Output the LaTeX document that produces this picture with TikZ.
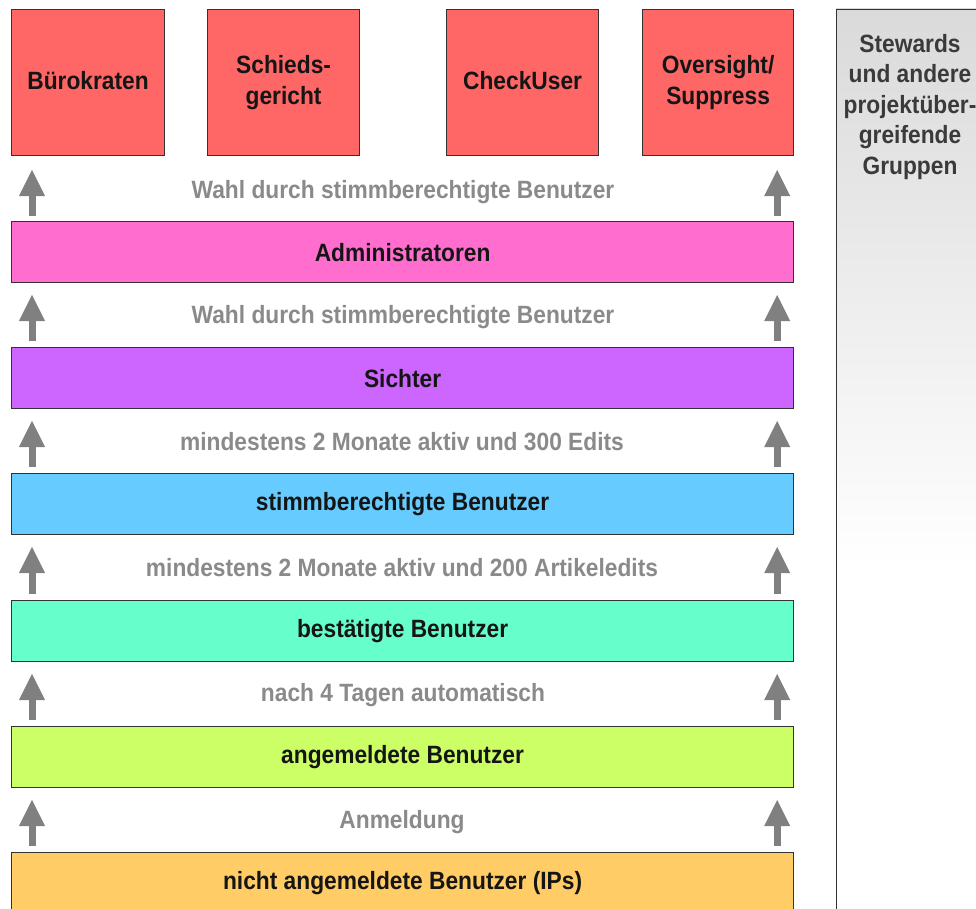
\documentclass[tikz,border=0pt]{standalone}
\usepackage{fontspec}
\setmainfont[FakeStretch=0.91]{Liberation Sans}
\usetikzlibrary{arrows.meta}
\definecolor{redc}{HTML}{FF6666}
\definecolor{admc}{HTML}{FF6DCF}
\definecolor{sicc}{HTML}{CC66FF}
\definecolor{stbc}{HTML}{66CCFF}
\definecolor{besc}{HTML}{66FFCC}
\definecolor{angc}{HTML}{CCFF66}
\definecolor{nangc}{HTML}{FFCC66}
\definecolor{bordc}{HTML}{333333}
\definecolor{labc}{HTML}{8A8A8A}
\definecolor{arrc}{HTML}{808080}
\definecolor{txtc}{HTML}{151515}
\definecolor{pantxt}{HTML}{3A3A3A}
\definecolor{panc}{HTML}{DADADA}
\tikzset{
  basebox/.style={draw=bordc, line width=1.2pt, inner sep=0pt, anchor=north west,
    text=txtc, font=\bfseries\fontsize{25}{31}\selectfont, align=center},
  topbox/.style={basebox, fill=redc, minimum width=153pt, minimum height=146pt},
  barbox/.style={basebox, minimum width=782pt, minimum height=61pt},
  lab/.style={text=labc, font=\bfseries\fontsize{25}{27}\selectfont, inner sep=0pt},
  arr/.style={draw=arrc, line width=7pt, -{Triangle[width=24pt,length=27pt]}},
  pantext/.style={text=pantxt, font=\bfseries\fontsize{25}{30.5}\selectfont, align=center, inner sep=0pt}
}
\newcommand{\up}[1]{\raisebox{3.5pt}{#1}}
\begin{document}
\begin{tikzpicture}[x=1pt,y=1pt]
\useasboundingbox (0,0) rectangle (976,908);
\clip (0,0) rectangle (976,908);
\fill[white] (0,0) rectangle (976,908);
% right panel
\fill[white] (836,-20) rectangle (1000,899);
\shade[top color=panc, bottom color=white] (836,340) rectangle (1000,899);
\node[draw=bordc, line width=1.2pt, inner sep=0pt, anchor=north west, minimum width=170pt, minimum height=930pt] (panel) at (836,899) {};
\node[pantext, anchor=north] (pt) at (910,874) {Stewards\\ und andere\\ projektüber-\\ greifende\\ Gruppen};
% top boxes
\node[topbox] (bk) at (11,899) {\up{Bürokraten}};
\node[topbox, minimum width=152pt] (sg) at (207,899) {\up{Schieds-}\\\up{gericht}};
\node[topbox, minimum width=152pt] (cu) at (446,899) {\up{CheckUser}};
\node[topbox, minimum width=151pt] (os) at (642,899) {\up{Oversight/}\\\up{Suppress}};
% bars
\node[barbox, fill=admc] (adm) at (11,687) {Administratoren};
\node[barbox, fill=sicc] (sic) at (11,561) {Sichter};
\node[barbox, fill=stbc] (stb) at (11,435) {stimmberechtigte Benutzer};
\node[barbox, fill=besc] (bes) at (11,308) {bestätigte Benutzer};
\node[barbox, fill=angc] (ang) at (11,182) {angemeldete Benutzer};
\node[barbox, fill=nangc] (nang) at (11,56) {nicht angemeldete Benutzer (IPs)};
% labels
\node[lab] (l1) at (403,716) {Wahl durch stimmberechtigte Benutzer};
\node[lab] (l2) at (403,591) {Wahl durch stimmberechtigte Benutzer};
\node[lab] (l3) at (402,466) {mindestens 2 Monate aktiv und 300 Edits};
\node[lab] (l4) at (402,340) {mindestens 2 Monate aktiv und 200 Artikeledits};
\node[lab] (l5) at (403,213) {nach 4 Tagen automatisch};
\node[lab] (l6) at (402,86) {Anmeldung};
% arrows
\draw[arr] ([xshift=21pt,yshift=5pt]adm.north west) -- ([xshift=21pt,yshift=-13pt]bk.south west);
\draw[arr] ([xshift=-17pt,yshift=5pt]adm.north east) -- ([xshift=-17pt,yshift=-13pt]os.south east);
\foreach \lo/\hi in {sic/adm, stb/sic, bes/stb, ang/bes, nang/ang}{
  \draw[arr] ([xshift=21pt,yshift=6pt]\lo.north west) -- ([xshift=21pt,yshift=-11pt]\hi.south west);
  \draw[arr] ([xshift=-17pt,yshift=6pt]\lo.north east) -- ([xshift=-17pt,yshift=-11pt]\hi.south east);
}
\end{tikzpicture}
\end{document}
